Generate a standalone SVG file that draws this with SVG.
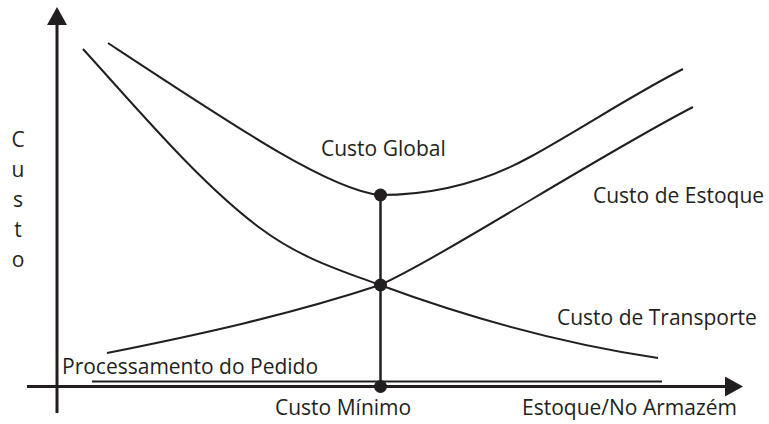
<svg xmlns="http://www.w3.org/2000/svg" width="769" height="424" viewBox="0 0 769 424">
<style>
text{font-family:"Open Sans","Liberation Sans",sans-serif;font-size:21px;fill:#231f20}
.axis{stroke:#231f20;stroke-width:3;fill:none}
.curve{stroke:#231f20;stroke-width:2;fill:none}
.dot{fill:#231f20}
</style>
<defs>
<marker id="arrow" markerUnits="userSpaceOnUse" markerWidth="18" markerHeight="20" refX="0" refY="10" orient="auto">
<path d="M0,0 L18,10 L0,20 z" fill="#231f20"/>
</marker>
</defs>
<rect width="769" height="424" fill="#fff"/>
<g id="axes">
<line class="axis" x1="57" y1="413" x2="57" y2="25" marker-end="url(#arrow)"/>
<line class="axis" x1="27" y1="386.5" x2="725" y2="386.5" marker-end="url(#arrow)"/>
</g>
<g id="connectors">
<path id="global" class="curve" d="M108,43 C240,130 330,190 380,195 C430,195 480,184.5 530,157 C581,129 632,95 683,69"/>
<path id="transporte" class="curve" d="M83,49 C142,114 201,184 260,228 C300,258 340,270.2 380,285 C472.7,319.3 565.3,344.1 658,358"/>
<path id="estoque" class="curve" d="M107,353 C198,334.8 289,315 380,285 C440,258 600,155 693,107"/>
<line id="pedido" class="curve" x1="92" y1="381.5" x2="662" y2="381.5"/>
<line id="minimo" class="curve" x1="380.5" y1="195" x2="380.5" y2="386.5" style="stroke-width:2.5"/>
</g>
<g id="points">
<circle class="dot" cx="380.5" cy="195" r="6.5"/>
<circle class="dot" cx="380.5" cy="285" r="6.5"/>
<circle class="dot" cx="380.5" cy="386.5" r="6.5"/>
</g>
<g id="label-custo" text-anchor="middle">
<text x="18" y="147">C</text>
<text x="18" y="177">u</text>
<text x="18" y="207">s</text>
<text x="18" y="237">t</text>
<text x="18" y="267">o</text>
</g>
<g id="label-global"><text x="321" y="156">Custo Global</text></g>
<g id="label-estoque"><text x="593" y="203">Custo de Estoque</text></g>
<g id="label-transporte"><text x="557" y="325">Custo de Transporte</text></g>
<g id="label-pedido"><text x="62" y="374">Processamento do Pedido</text></g>
<g id="label-minimo"><text x="275" y="415">Custo Mínimo</text></g>
<g id="label-xaxis"><text x="522" y="415">Estoque/No Armazém</text></g>
</svg>
